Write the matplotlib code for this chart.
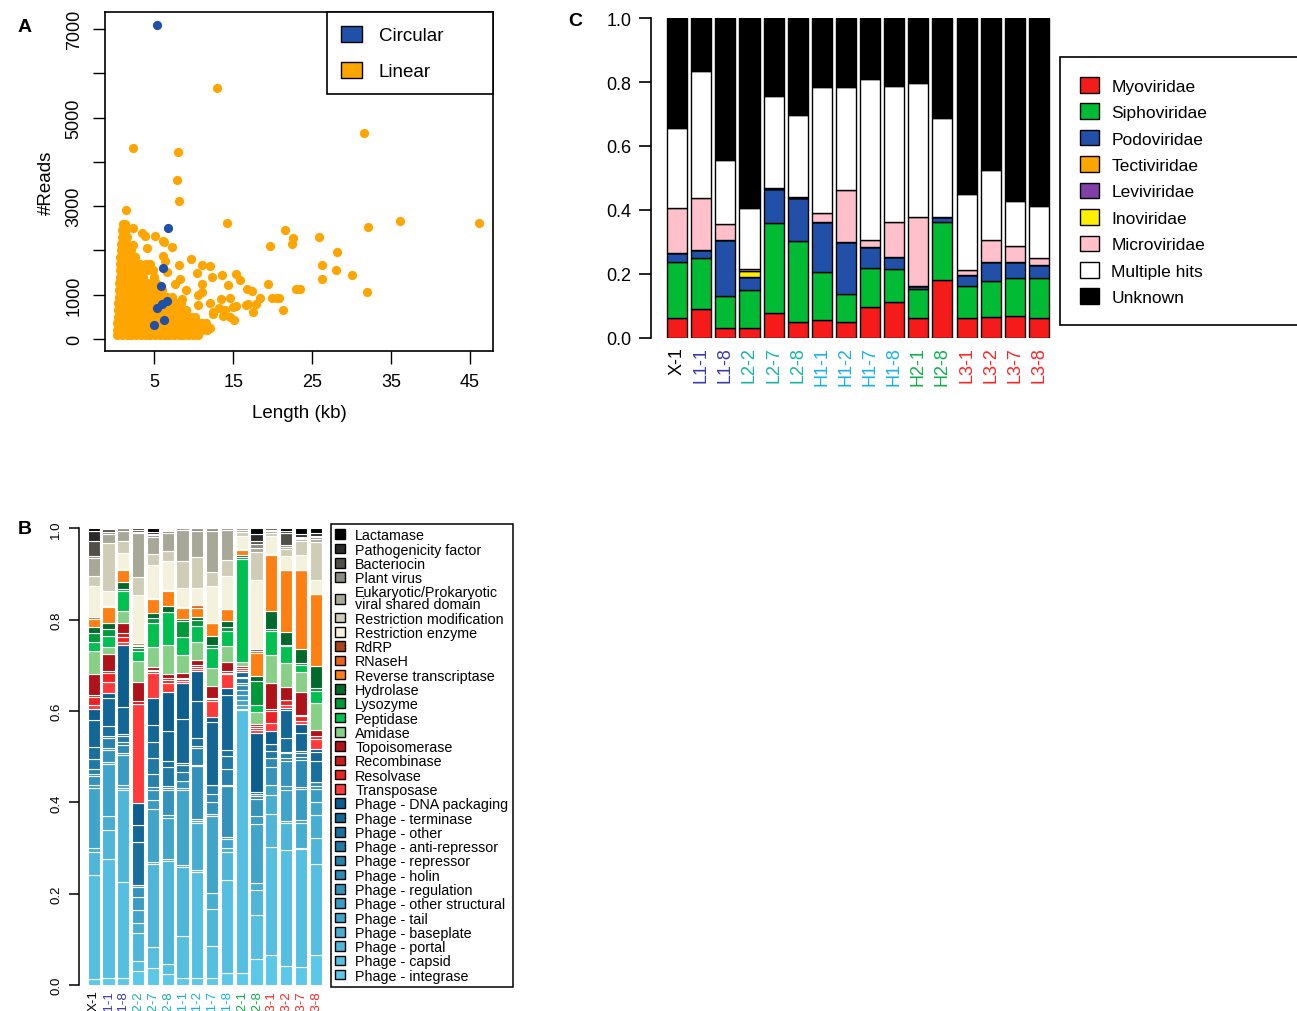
import matplotlib.pyplot as plt
import numpy as np
from matplotlib.patches import Patch
from matplotlib.colors import to_rgb

plt.rcParams['font.family'] = ['Liberation Sans', 'DejaVu Sans']

# ---------------- data: panel A (contig length vs reads) ----------------
# dense cloud of linear contigs, by read level
blob_rows = {
    2600: [1.0, 1.3],
    2450: [0.9, 1.4],
    2300: [0.9, 1.5],
    2150: [0.8, 1.6],
    2000: [0.8, 1.4, 2.0],
    1850: [0.7, 1.3, 1.9, 2.5],
    1700: [0.7, 1.3, 1.9, 2.5, 3.2, 3.9, 4.5],
    1550: [0.6, 1.2, 1.8, 2.4, 3.0, 3.6, 4.2, 4.8],
    1400: [0.6, 1.2, 1.8, 2.4, 3.0, 3.6, 5.0],
    1250: [0.5, 1.1, 1.7, 2.3, 2.9, 3.5, 4.1, 4.7, 5.2],
    1100: [0.5, 1.1, 1.7, 2.3, 2.9, 3.5, 4.1, 4.7, 5.3, 6.0],
    950: [0.5, 1.1, 1.7, 2.3, 2.9, 3.5, 4.1, 4.7, 5.3, 5.9, 6.6, 7.3],
    800: [0.4, 1.0, 1.6, 2.2, 2.8, 3.4, 4.0, 4.6, 5.2, 5.8, 6.4, 7.0, 7.7, 8.4],
    650: [0.4, 1.0, 1.6, 2.2, 2.8, 3.4, 4.0, 4.6, 5.2, 5.8, 6.4, 7.0, 7.6, 8.3, 9.0],
    500: [0.4, 1.0, 1.6, 2.2, 2.8, 3.4, 4.0, 4.6, 5.2, 5.8, 6.4, 7.0, 7.6, 8.2, 8.9, 9.6, 10.2],
    350: [0.3, 0.9, 1.5, 2.1, 2.7, 3.3, 3.9, 4.5, 5.1, 5.7, 6.3, 6.9, 7.5, 8.1, 8.7, 9.3, 9.9, 10.5, 11.1],
    200: [0.3, 0.9, 1.5, 2.1, 2.7, 3.3, 3.9, 4.5, 5.1, 5.7, 6.3, 6.9, 7.5, 8.1, 8.7, 9.3, 9.9, 10.5, 11.1, 11.7],
    80: [0.3, 0.9, 1.5, 2.1, 2.7, 3.3, 3.9, 4.5, 5.1, 5.7, 6.3, 6.9, 7.5, 8.1, 8.7, 9.3, 9.9, 10.5],
}
# scattered linear contigs (length kb, reads)
lin_len = [2.26, 12.97, 31.6, 7.95, 7.82, 8.16, 1.41, 14.16, 36.1, 46.1, 32.1, 21.5, 22.6, 22.4,
           25.8, 19.6, 28.2, 26.3, 28.0, 26.3, 30.0, 32.0, 21.3, 23.0, 23.5, 19.4, 18.4, 19.9,
           20.6, 16.7, 17.4, 15.4, 15.8, 14.3, 13.6, 12.3, 11.0, 10.4, 11.0, 12.05, 9.6, 8.1,
           8.25, 7.3, 6.1, 5.1, 3.8, 3.4, 4.03, 2.3, 2.3, 2.5, 6.1, 6.2, 11.1, 10.56, 10.56,
           12.05, 13.5, 14.6, 15.0, 15.4, 16.6, 16.9, 17.5, 15.1, 14.6, 12.5, 13.7, 17.9, 20.8,
           9.0, 8.5, 7.6, 6.6, 6.3, 11.5, 12.0, 12.4, 13.2, 14.0]
lin_reads = [4304, 5681, 4650, 4214, 3597, 3123, 2912, 2619, 2671, 2619, 2521, 2468, 2273, 2145,
             2310, 2107, 1957, 1678, 1543, 1355, 1445, 1054, 640, 1114, 1120, 1227, 918, 926,
             930, 1114, 1070, 1467, 1317, 1219, 1430, 1407, 1242, 1490, 1656, 1634, 1806, 1656,
             1355, 2084, 2220, 2333, 2318, 2400, 2047, 2498, 2122, 1859, 1866, 2197, 1054, 978, 768,
             813, 903, 918, 715, 737, 768, 790, 602, 414, 489, 564, 504, 790, 918,
             1100, 900, 1240, 1520, 1750, 350, 250, 600, 700, 650]
circ_len = [5.4, 6.69, 6.14, 5.8, 6.65, 5.93, 5.4, 6.2, 4.96]
circ_reads = [7104, 2498, 1595, 1189, 843, 790, 700, 414, 316]

# ---------------- data: samples ----------------
samples = ['X-1', 'L1-1', 'L1-8', 'L2-2', 'L2-7', 'L2-8', 'H1-1', 'H1-2', 'H1-7', 'H1-8',
           'H2-1', 'H2-8', 'L3-1', 'L3-2', 'L3-7', 'L3-8']
sample_colors = ['black', '#3b3ba8', '#3b3ba8', '#17b3a3', '#17b3a3', '#17b3a3',
                 '#19b2e6', '#19b2e6', '#19b2e6', '#19b2e6', '#10b04c', '#10b04c',
                 '#ff2424', '#ff2424', '#ff2424', '#ff2424']

# ---------------- data: panel C (family proportions) ----------------
families = ['Myoviridae', 'Siphoviridae', 'Podoviridae', 'Tectiviridae', 'Leviviridae',
            'Inoviridae', 'Microviridae', 'Multiple hits', 'Unknown']
myo = [0.0625, 0.091, 0.03, 0.03, 0.078, 0.051, 0.056, 0.049, 0.096, 0.111, 0.061, 0.181, 0.061, 0.067, 0.068, 0.0625]
sipho = [0.1735, 0.159, 0.102, 0.121, 0.281, 0.251, 0.151, 0.09, 0.123, 0.105, 0.092, 0.183, 0.1, 0.112, 0.1195, 0.1265]
podo = [0.03, 0.025, 0.175, 0.041, 0.107, 0.1355, 0.154, 0.16, 0.064, 0.038, 0.008, 0.013, 0.036, 0.057, 0.0485, 0.04]
tecti = [0.0] * 16
levi = [0.0] * 16
ino = [0, 0, 0, 0.018, 0, 0, 0, 0, 0, 0, 0, 0, 0, 0, 0, 0]
micro = [0.139, 0.1625, 0.049, 0.006, 0.004, 0.0035, 0.029, 0.1635, 0.022, 0.1085, 0.216, 0.002, 0.017, 0.07, 0.053, 0.021]
multi = [0.251, 0.3955, 0.199, 0.19, 0.285, 0.257, 0.395, 0.3225, 0.504, 0.4235, 0.419, 0.307, 0.236, 0.219, 0.14, 0.164]
unknown = [0.344, 0.167, 0.445, 0.594, 0.245, 0.302, 0.215, 0.215, 0.191, 0.214, 0.204, 0.314, 0.55, 0.475, 0.571, 0.586]
family_colors = ['#f51b1b', '#00bb33', '#2250a8', '#ffa500', '#8040a8', '#ffee00', '#ffc0cb', 'white', 'black']

# ---------------- data: panel B (functional categories, bottom -> top) ----------------
functions = ['Phage - integrase', 'Phage - capsid', 'Phage - portal', 'Phage - baseplate', 'Phage - tail',
             'Phage - other structural', 'Phage - regulation', 'Phage - holin', 'Phage - repressor',
             'Phage - anti-repressor', 'Phage - other', 'Phage - terminase', 'Phage - DNA packaging',
             'Transposase', 'Resolvase', 'Recombinase', 'Topoisomerase', 'Amidase', 'Peptidase',
             'Lysozyme', 'Hydrolase', 'Reverse transcriptase', 'RNaseH', 'RdRP', 'Restriction enzyme',
             'Restriction modification', 'Eukaryotic/Prokaryotic\nviral shared domain', 'Plant virus',
             'Bacteriocin', 'Pathogenicity factor', 'Lactamase']
f_X1 = [0.013, 0.228, 0.05, 0.01, 0.131, 0.007, 0.019, 0.005, 0.011, 0.021, 0.027, 0.059, 0.024, 0.009, 0.017, 0.005, 0.045, 0.05, 0.02, 0.02, 0.013, 0.018, 0.004, 0.0, 0.068, 0.022, 0.04, 0.003, 0.033, 0.022, 0.006]
f_L11 = [0.015, 0.261, 0.064, 0.031, 0.113, 0.004, 0.027, 0.004, 0.022, 0.004, 0.022, 0.061, 0.011, 0.024, 0.02, 0.005, 0.037, 0.015, 0.024, 0.016, 0.013, 0.034, 0.003, 0.0, 0.033, 0.105, 0.019, 0.005, 0.006, 0.002, 0.0]
f_L18 = [0.015, 0.211, 0.201, 0.003, 0.006, 0.067, 0.005, 0.017, 0.005, 0.015, 0.004, 0.059, 0.134, 0.008, 0.01, 0.01, 0.02, 0.027, 0.044, 0.004, 0.015, 0.027, 0.002, 0.0, 0.035, 0.026, 0.022, 0.006, 0.0, 0.0, 0.0]
f_L22 = [0.031, 0.022, 0.06, 0.022, 0.029, 0.028, 0.022, 0.005, 0.0, 0.0, 0.094, 0.037, 0.048, 0.217, 0.0, 0.005, 0.043, 0.044, 0.022, 0.008, 0.003, 0.004, 0.003, 0.0, 0.105, 0.04, 0.095, 0.003, 0.004, 0.004, 0.0]
f_L27 = [0.037, 0.046, 0.182, 0.005, 0.116, 0.018, 0.022, 0.008, 0.027, 0.035, 0.035, 0.038, 0.059, 0.055, 0.004, 0.003, 0.006, 0.044, 0.053, 0.01, 0.012, 0.03, 0.003, 0.0, 0.072, 0.024, 0.037, 0.004, 0.003, 0.004, 0.008]
f_L28 = [0.024, 0.022, 0.226, 0.004, 0.09, 0.007, 0.054, 0.005, 0.004, 0.041, 0.013, 0.066, 0.086, 0.02, 0.005, 0.006, 0.007, 0.064, 0.073, 0.0, 0.013, 0.033, 0.002, 0.0, 0.063, 0.022, 0.04, 0.005, 0.002, 0.002, 0.001]
f_H11 = [0.015, 0.092, 0.151, 0.003, 0.164, 0.006, 0.014, 0.0, 0.019, 0.016, 0.004, 0.096, 0.079, 0.004, 0.004, 0.004, 0.011, 0.038, 0.04, 0.034, 0.006, 0.022, 0.004, 0.0, 0.04, 0.06, 0.068, 0.003, 0.0, 0.0, 0.0]
f_H12 = [0.015, 0.232, 0.003, 0.103, 0.004, 0.004, 0.116, 0.003, 0.037, 0.004, 0.018, 0.08, 0.066, 0.004, 0.004, 0.005, 0.011, 0.04, 0.035, 0.012, 0.006, 0.02, 0.006, 0.0, 0.037, 0.068, 0.058, 0.005, 0.0, 0.0, 0.0]
f_H17 = [0.015, 0.07, 0.081, 0.034, 0.17, 0.004, 0.026, 0.018, 0.018, 0.0, 0.0, 0.139, 0.011, 0.034, 0.004, 0.003, 0.026, 0.038, 0.045, 0.006, 0.02, 0.028, 0.0, 0.0, 0.08, 0.032, 0.09, 0.005, 0.0, 0.0, 0.0]
f_H18 = [0.026, 0.202, 0.063, 0.007, 0.02, 0.004, 0.113, 0.001, 0.034, 0.029, 0.013, 0.121, 0.015, 0.03, 0.003, 0.004, 0.02, 0.035, 0.033, 0.008, 0.012, 0.026, 0.002, 0.0, 0.07, 0.035, 0.066, 0.004, 0.0, 0.0, 0.0]
f_H21 = [0.026, 0.574, 0.004, 0.007, 0.012, 0.011, 0.01, 0.011, 0.004, 0.011, 0.004, 0.011, 0.0, 0.004, 0.003, 0.0, 0.004, 0.009, 0.226, 0.004, 0.005, 0.01, 0.002, 0.0, 0.03, 0.008, 0.005, 0.003, 0.0, 0.0, 0.0]
f_H28 = [0.057, 0.096, 0.054, 0.016, 0.13, 0.017, 0.037, 0.006, 0.005, 0.0, 0.0, 0.004, 0.13, 0.005, 0.005, 0.004, 0.004, 0.028, 0.015, 0.052, 0.01, 0.052, 0.004, 0.004, 0.152, 0.06, 0.01, 0.008, 0.006, 0.016, 0.012]
f_L31 = [0.065, 0.237, 0.072, 0.042, 0.021, 0.0, 0.04, 0.02, 0.0, 0.015, 0.016, 0.0, 0.028, 0.018, 0.026, 0.005, 0.056, 0.062, 0.052, 0.004, 0.04, 0.122, 0.003, 0.0, 0.04, 0.006, 0.004, 0.002, 0.004, 0.0, 0.0]
f_L32 = [0.042, 0.254, 0.057, 0.006, 0.068, 0.007, 0.056, 0.007, 0.009, 0.004, 0.03, 0.06, 0.005, 0.006, 0.011, 0.0, 0.03, 0.051, 0.037, 0.004, 0.027, 0.135, 0.0, 0.0, 0.031, 0.015, 0.006, 0.004, 0.025, 0.005, 0.006]
f_L37 = [0.04, 0.256, 0.002, 0.055, 0.006, 0.068, 0.004, 0.059, 0.007, 0.009, 0.004, 0.04, 0.02, 0.006, 0.011, 0.002, 0.05, 0.044, 0.015, 0.005, 0.03, 0.171, 0.0, 0.0, 0.033, 0.031, 0.004, 0.003, 0.003, 0.006, 0.012]
f_L38 = [0.065, 0.2, 0.057, 0.05, 0.029, 0.028, 0.006, 0.01, 0.0, 0.0, 0.045, 0.02, 0.007, 0.022, 0.005, 0.0, 0.014, 0.059, 0.027, 0.005, 0.049, 0.158, 0.0, 0.0, 0.029, 0.085, 0.005, 0.004, 0.004, 0.006, 0.01]

# colours for functional categories
c0, c1 = np.array(to_rgb('#5ac8e8')), np.array(to_rgb('#0c5e8e'))
phage_cols = [tuple(c0 + (c1 - c0) * t) for t in np.linspace(0, 1, 13)]
function_colors = phage_cols + [
    '#ff3a3a', '#ee2222', '#d01a1a', '#b0121a',        # transposase .. topoisomerase
    '#88d088', '#00c050', '#00993a', '#006a2a',        # amidase .. hydrolase
    '#ff8012', '#e8621c', '#a8441a',                   # RT, RNaseH, RdRP
    '#f4f2dc', '#d0cdb6', '#a8a898', '#8a8a80', '#505048', '#2a2a2a', '#000000']

# ---------------- figure ----------------
W, H = 1297, 1012
fig = plt.figure(figsize=(W / 100, H / 100), dpi=100)


def ax_px(x0, y0, x1, y1):
    return fig.add_axes([x0 / W, 1 - y1 / H, (x1 - x0) / W, (y1 - y0) / H])


# ---- panel A ----
axA = ax_px(105, 13, 493, 352)
bx = [x for r in blob_rows for x in blob_rows[r]]
by = [r for r in blob_rows for x in blob_rows[r]]
axA.scatter(bx + lin_len, by + lin_reads, s=44, c='#ffa500', linewidths=0)
axA.scatter(circ_len, circ_reads, s=44, c='#2150a8', linewidths=0, zorder=3)
axA.set_xlim(-1.24, 47.9)
axA.set_ylim(-278, 7390)
axA.set_xticks([5, 15, 25, 35, 45])
axA.set_yticks(range(0, 7001, 1000))
axA.set_yticklabels(['0', '1000', '', '3000', '', '5000', '', '7000'], rotation=90, va='center')
axA.tick_params(direction='out', length=9, width=1, labelsize=13, pad=7)
for s in axA.spines.values():
    s.set_linewidth(1.2)
axA.set_xlabel('Length (kb)', fontsize=13.5, labelpad=10)
axA.set_ylabel('#Reads', fontsize=13.5, labelpad=8)
legA = axA.legend(handles=[Patch(facecolor='#2150a8', edgecolor='black', label='Circular'),
                           Patch(facecolor='#ffa500', edgecolor='black', label='Linear')],
                  loc='upper right', bbox_to_anchor=(0.572, 0.0, 0.428, 1.0), mode='expand',
                  borderaxespad=0, fancybox=False, edgecolor='black',
                  fontsize=13.5, handlelength=1.12, handleheight=0.9, borderpad=0.75,
                  labelspacing=0.95, handletextpad=0.9, framealpha=1)
legA.get_frame().set_linewidth(1.2)

# ---- panel C ----
axC = ax_px(651, 19, 1057, 339)
xc = np.arange(len(samples)) * 1.2
bottom = np.zeros(len(samples))
for vals, col in zip([myo, sipho, podo, tecti, levi, ino, micro, multi, unknown], family_colors):
    axC.bar(xc, vals, width=1, bottom=bottom, color=col, edgecolor='black', linewidth=1)
    bottom += np.array(vals)
axC.set_xlim(-1.3, 18.9)
axC.set_ylim(0, 1)
for sp in ['top', 'right', 'bottom']:
    axC.spines[sp].set_visible(False)
axC.spines['left'].set_bounds(0, 1)
axC.spines['left'].set_linewidth(1.2)
axC.set_yticks(np.arange(0, 1.01, 0.2))
axC.set_yticklabels(['%.1f' % v for v in np.arange(0, 1.01, 0.2)])
axC.tick_params(axis='y', direction='out', length=9, width=1.2, labelsize=13, pad=5)
axC.set_xticks(xc)
axC.set_xticklabels(samples, rotation=90, fontsize=13)
axC.tick_params(axis='x', length=0, pad=6)
for lab, col in zip(axC.get_xticklabels(), sample_colors):
    lab.set_color(col)
legC = fig.legend(handles=[Patch(facecolor=c, edgecolor='black', label=f)
                           for f, c in zip(families, family_colors)],
                  loc='upper left', bbox_to_anchor=(1060 / W, 1 - 58 / H - 0.01, 0.25, 0.01),
                  mode='expand', borderaxespad=0, fancybox=False, edgecolor='black',
                  fontsize=12.5, handlelength=1.1, handleheight=1.0, borderpad=1.15,
                  labelspacing=0.56, handletextpad=0.7, framealpha=1)
legC.get_frame().set_linewidth(1.2)

# ---- panel B ----
axB = ax_px(79, 529.3, 325.6, 986)
xb = np.arange(len(samples)) * 1.2
fvals = np.array([f_X1, f_L11, f_L18, f_L22, f_L27, f_L28, f_H11, f_H12, f_H17, f_H18,
                  f_H21, f_H28, f_L31, f_L32, f_L37, f_L38])
fvals = fvals / fvals.sum(axis=1, keepdims=True)
bottom = np.zeros(len(samples))
for j, col in enumerate(function_colors):
    axB.bar(xb, fvals[:, j], width=1, bottom=bottom, color=col, edgecolor='white', linewidth=0.8)
    bottom += fvals[:, j]
axB.set_xlim(-1.19, 18.8)
axB.set_ylim(0, 1)
for sp in ['top', 'right', 'bottom']:
    axB.spines[sp].set_visible(False)
axB.spines['left'].set_bounds(0, 1)
axB.spines['left'].set_linewidth(1.1)
axB.set_yticks(np.arange(0, 1.01, 0.2))
axB.set_yticklabels(['%.1f' % v for v in np.arange(0, 1.01, 0.2)], rotation=90, va='center')
axB.tick_params(axis='y', direction='out', length=7, width=1.1, labelsize=9.5, pad=5)
axB.set_xticks(xb)
axB.set_xticklabels(samples, rotation=90, fontsize=9.5)
axB.tick_params(axis='x', length=0, pad=3)
for lab, col in zip(axB.get_xticklabels(), sample_colors):
    lab.set_color(col)
legB = fig.legend(handles=[Patch(facecolor=c, edgecolor='black', label=f)
                           for f, c in zip(functions[::-1], function_colors[::-1])],
                  loc='upper left', bbox_to_anchor=(331 / W, 1 - 525 / H),
                  borderaxespad=0, fancybox=False, edgecolor='black', fontsize=10.3,
                  handlelength=0.65, handleheight=0.65, borderpad=0.3, labelspacing=0.02,
                  handletextpad=0.75, framealpha=1)
legB.get_frame().set_linewidth(1.1)
for t in legB.get_texts():
    t.set_linespacing(0.8)

# panel letters
fig.text(18 / W, 1 - 28 / H, 'A', fontsize=14, fontweight='bold', va='center')
fig.text(18 / W, 1 - 530 / H, 'B', fontsize=14, fontweight='bold', va='center')
fig.text(568 / W, 1 - 22 / H, 'C', fontsize=14, fontweight='bold', va='center')

fig.savefig('out.png', dpi=100)
